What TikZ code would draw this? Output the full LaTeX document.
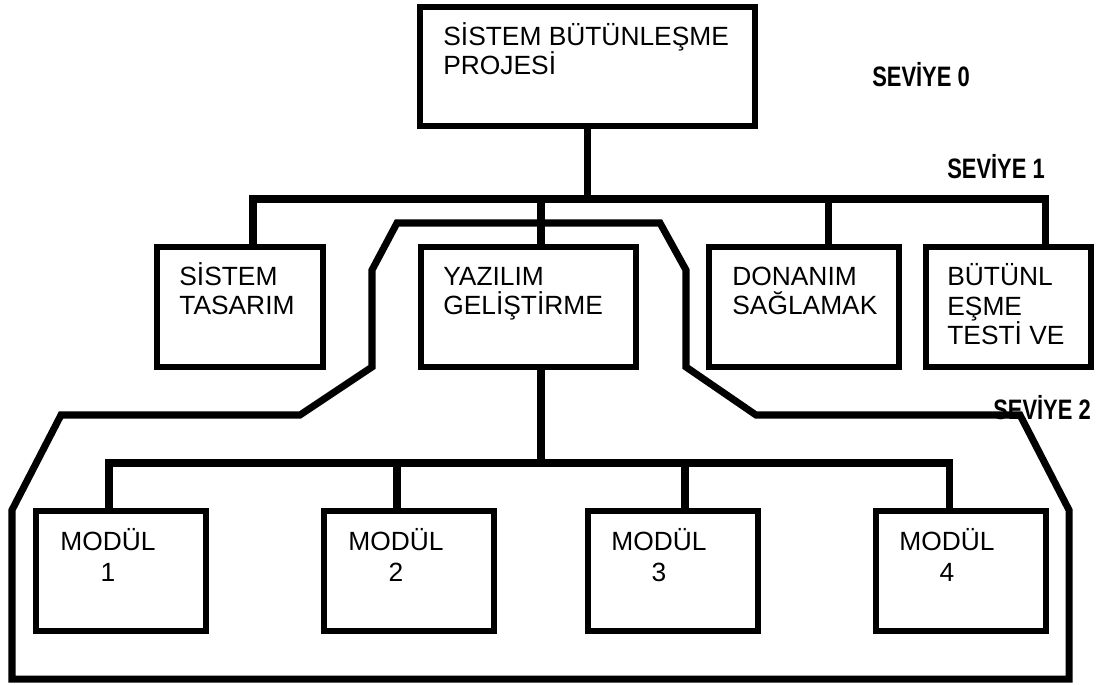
\documentclass[tikz,border=0pt]{standalone}
\usepackage{fontspec}
\setmainfont{Liberation Sans}
\newfontfamily\levelfont[FakeStretch=0.78]{Liberation Sans}
\tikzset
{
    wbsbox/.style   = {draw=black, line width=3.5pt, anchor=north west, inner sep=0pt, outer sep=0pt},
    wbstext/.style  = {anchor=base west, align=left, inner sep=0pt, font=\fontsize{15}{17}\selectfont},
    modtext/.style  = {anchor=base west, align=center, inner sep=0pt, font=\fontsize{15}{17.5}\selectfont},
    levelname/.style = {inner sep=0pt, font=\levelfont\fontsize{16}{18}\selectfont\bfseries},
    link/.style     = {draw=black, line width=4pt, line join=miter}
}

\begin{document}
\begin{tikzpicture}[x=0.02cm, y=-0.02cm]
\useasboundingbox (0,0) rectangle (1101,684);

% seviye 0
\node (proje)[wbsbox, minimum width=6.7cm, minimum height=2.38cm,
      label={[wbstext, xshift=0.46cm, yshift=-1.36cm]north west:SİSTEM BÜTÜNLEŞME\\PROJESİ}] at (420,7) {};

% seviye 1
\node (tasarim)[wbsbox, minimum width=3.32cm, minimum height=2.4cm,
      label={[wbstext, xshift=0.44cm, yshift=-1.36cm]north west:SİSTEM\\TASARIM}] at (157,247) {};
\node (yazilim)[wbsbox, minimum width=4.3cm, minimum height=2.4cm,
      label={[wbstext, xshift=0.44cm, yshift=-1.36cm]north west:YAZILIM\\GELİŞTİRME}] at (421,247) {};
\node (donanim)[wbsbox, minimum width=3.8cm, minimum height=2.4cm,
      label={[wbstext, xshift=0.46cm, yshift=-1.36cm]north west:DONANIM\\SAĞLAMAK}] at (709,247) {};
\node (butunl)[wbsbox, minimum width=3.3cm, minimum height=2.4cm,
      label={[wbstext, xshift=0.42cm, yshift=-1.96cm]north west:BÜTÜNL\\EŞME\\TESTİ VE}] at (926,247) {};

% seviye 2
\node (modul1)[wbsbox, minimum width=3.4cm, minimum height=2.4cm,
      label={[modtext, xshift=0.48cm, yshift=-1.4cm]north west:MODÜL\\1}] at (36,511) {};
\node (modul2)[wbsbox, minimum width=3.4cm, minimum height=2.4cm,
      label={[modtext, xshift=0.48cm, yshift=-1.4cm]north west:MODÜL\\2}] at (324,511) {};
\node (modul3)[wbsbox, minimum width=3.4cm, minimum height=2.4cm,
      label={[modtext, xshift=0.46cm, yshift=-1.4cm]north west:MODÜL\\3}] at (588,511) {};
\node (modul4)[wbsbox, minimum width=3.4cm, minimum height=2.4cm,
      label={[modtext, xshift=0.46cm, yshift=-1.4cm]north west:MODÜL\\4}] at (876,511) {};

\coordinate (bus1w) at (253,199);
\coordinate (bus1e) at (1045,199);
\coordinate (t2) at (541,199);
\coordinate (t3) at (828,199);

\draw[link] (proje.south) -- (proje.south |- bus1w);
\draw[link] (bus1w |- tasarim.north) -- (bus1w) -- (bus1e) -- (bus1e |- butunl.north);
\draw[link] (t2) -- (t2 |- yazilim.north);
\draw[link] (t3) -- (t3 |- donanim.north);

\coordinate (bus2w) at (109,463);
\coordinate (bus2e) at (949,463);
\coordinate (u0) at (541,463);
\coordinate (u2) at (397,463);
\coordinate (u3) at (685,463);

\draw[link] (u0 |- yazilim.south) -- (u0);
\draw[link] (bus2w |- modul1.north) -- (bus2w) -- (bus2e) -- (bus2e |- modul4.north);
\draw[link] (u2) -- (u2 |- modul2.north);
\draw[link] (u3) -- (u3 |- modul3.north);

% alt seviye cercevesi
\draw[link] (397,223) -- (660,223) -- (686,270) -- (686,367) -- (756,415) -- (1020,415)
  -- (1069,510) -- (1069,679) -- (12,679) -- (12,510) -- (61,415) -- (300,415)
  -- (372,367) -- (372,270) -- cycle;

\node (sev0)[levelname] at (921,75)  {SEVİYE 0};
\node (sev1)[levelname] at (996,167) {SEVİYE 1};
\node (sev2)[levelname] at (1042,408) {SEVİYE 2};

\end{tikzpicture}
\end{document}
